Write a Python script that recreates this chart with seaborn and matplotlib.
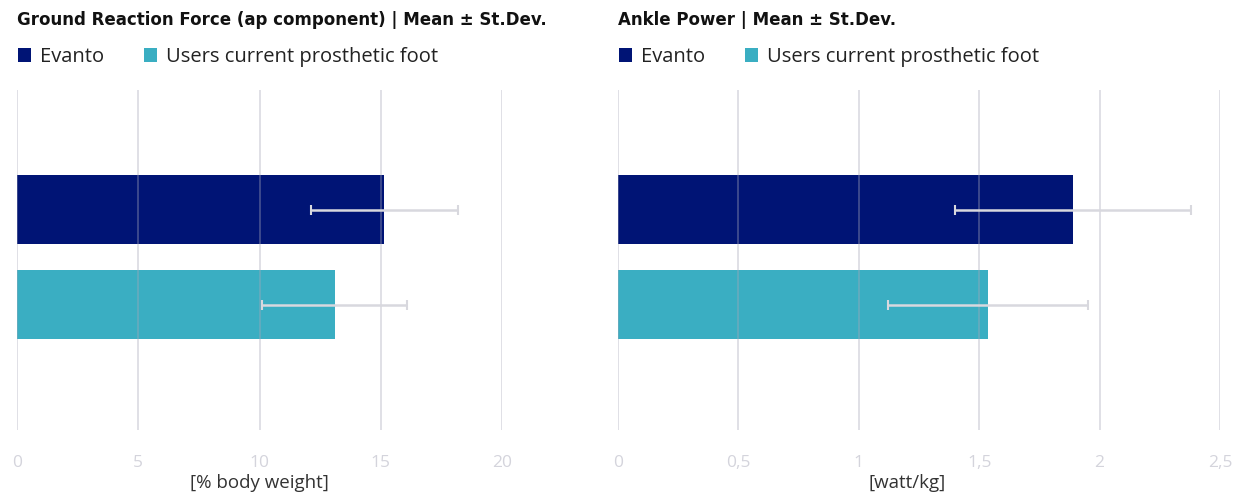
import seaborn as sns
import matplotlib.pyplot as plt
from matplotlib.patches import Patch
import pandas as pd

# data
groups = ["Evanto", "Users current prosthetic foot"]
grf_mean = [15.15, 13.1]
grf_std = [3.03, 3.0]
power_mean = [1.89, 1.535]
power_std = [0.49, 0.415]

colors = ["#001475", "#3aaec2"]
titles = ["Ground Reaction Force (ap component) | Mean \u00b1 St.Dev.",
          "Ankle Power | Mean \u00b1 St.Dev."]
xlabels = ["[% body weight]", "[watt/kg]"]

sns.set_style("white")
plt.rcParams['font.family'] = ['Open Sans', 'DejaVu Sans']

fig = plt.figure(figsize=(12.46, 4.97), dpi=100)
W, H = 1246, 497

panels = [
    dict(left=17, width=485, mean=grf_mean, std=grf_std, xlim=(0, 20), ticks=[0, 5, 10, 15, 20],
         labels=["0", "5", "10", "15", "20"], labx=0.5),
    dict(left=618, width=602, mean=power_mean, std=power_std, xlim=(0, 2.5),
         ticks=[0, 0.5, 1, 1.5, 2, 2.5], labels=["0", "0,5", "1", "1,5", "2", "2,5"], labx=0.481),
]

for i, p in enumerate(panels):
    ax = fig.add_axes([p["left"] / W, 1 - 430 / H, p["width"] / W, 340 / H])
    df = pd.DataFrame({"group": groups, "value": p["mean"]})
    sns.barplot(data=df, x="value", y="group", hue="group", palette=colors, saturation=1,
                orient="h", width=0.726, legend=False, ax=ax, zorder=1, linewidth=0)
    ax.errorbar(p["mean"], [0, 1], xerr=p["std"], fmt="none", ecolor="#d8d8de",
                elinewidth=1.8, capsize=3.5, capthick=1.5, zorder=4)
    ax.set_xlim(*p["xlim"])
    ax.set_ylim(2.32, -1.258)
    ax.set_xticks(p["ticks"])
    ax.set_xticklabels(p["labels"], color="#d4d4dc", fontsize=12.5)
    ax.tick_params(axis="x", length=0, pad=18)
    ax.set_yticks([])
    ax.set_ylabel("")
    ax.set_xlabel(xlabels[i], fontsize=13.5, color="#333333")
    ax.xaxis.set_label_coords(p["labx"], -0.13)
    ax.set_axisbelow(False)
    ax.grid(axis="x", color="#a8a8b8", alpha=0.42, linewidth=1.2, zorder=3)
    for s in ax.spines.values():
        s.set_visible(False)

    fig.text(p["left"] / W, 1 - 20 / H, titles[i], fontsize=12, fontweight="bold",
             family=["DejaVu Sans"], color="#111111", va="center")
    handles = [Patch(facecolor=c, edgecolor="none", label=g) for c, g in zip(colors, groups)]
    fig.legend(handles=handles, loc="center left",
               bbox_to_anchor=((p["left"] - 17) / W, 1 - 57 / H), ncol=2, frameon=False,
               fontsize=14.5, handlelength=0.65, handleheight=0.65, handletextpad=0.42,
               columnspacing=2.0, labelcolor="#222222")

fig.savefig("out.png", dpi=100)
